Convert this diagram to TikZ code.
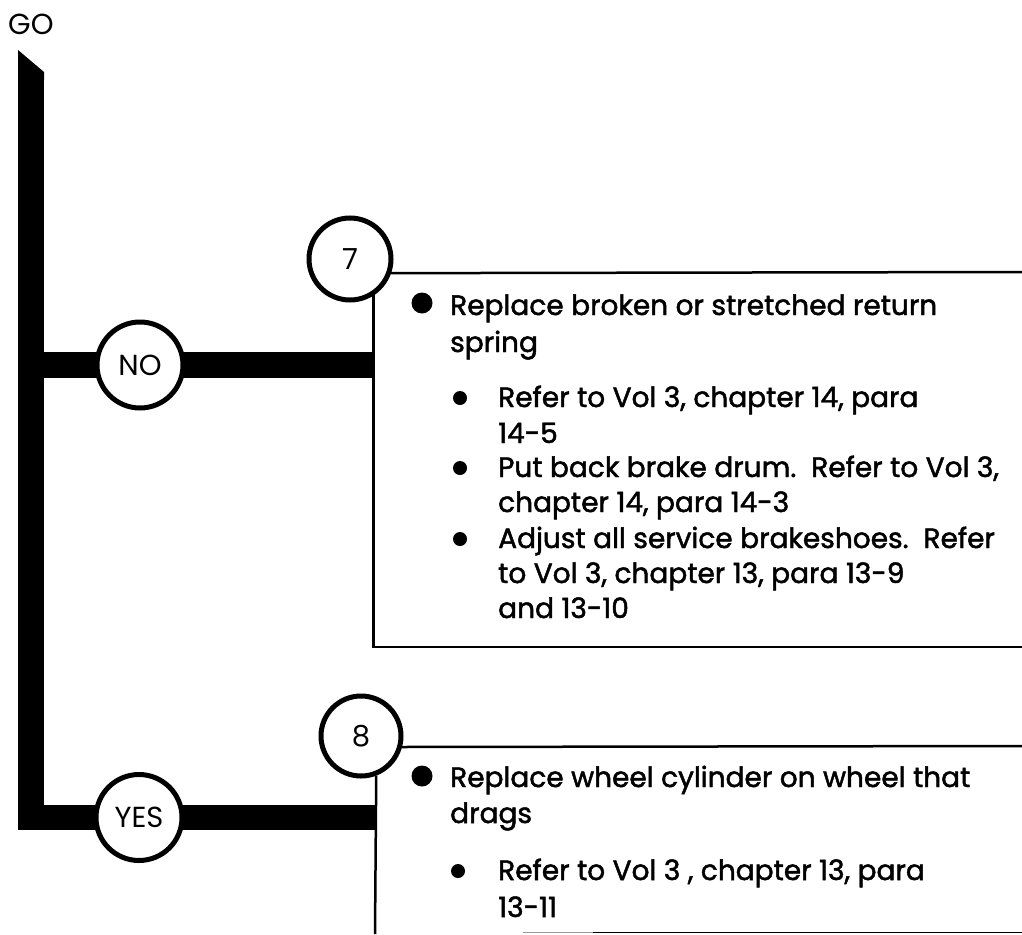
\documentclass[tikz,border=0pt]{standalone}
\usepackage{fontspec}
\setmainfont{Poppins}
\newfontfamily\bodyfont{Poppins}[FakeBold=1.7]
\begin{document}
\begin{tikzpicture}[x=1pt,y=-1pt,
  bar/.style={line width=25.5pt},
  circ/.style={circle,draw,line width=5pt,fill=white,minimum size=86pt,inner sep=0pt,font=\fontsize{29}{33}\selectfont},
  boxline/.style={line width=2.5pt},
  txt/.style={anchor=base west,inner sep=0pt,font=\bodyfont\fontsize{28}{33}\selectfont},
  bigdot/.style={circle,fill,inner sep=0pt,minimum size=21pt},
  smalldot/.style={circle,fill,inner sep=0pt,minimum size=14pt},
]
\useasboundingbox (0,0) rectangle (1022,934);

% start label
\node[anchor=base west,inner sep=0pt,font=\fontsize{29}{33}\selectfont] (go) at (8,35) {GO};

% trunk
\coordinate (ttop) at (31,72);
\coordinate (tcorner) at (31,817.5);
\coordinate (b8w) at (375,817.5);
\fill (18,50) -- (44,72) -- (44,80) -- (18,80) -- cycle;
\draw[bar,line join=miter] (ttop) -- (tcorner) -- (b8w);

% NO branch
\coordinate (noj) at (31,365);
\coordinate (b7w) at (372,365);
\draw[bar] (noj) -- (b7w);

% decision circles
\node[circ] (no) at (140,365) {NO};
\node[circ] (yes) at (139,817.5) {YES};

% box 7
\node[circ,minimum size=82pt] (c7) at (350,259) {7};
\coordinate (b7ne) at (1022,272);
\coordinate (b7se) at (1022,647);
\draw[boxline] (c7.-19) -- (b7ne);
\draw[boxline] (c7.-57) |- (b7se);

% box 8
\node[circ,minimum size=80pt] (c8) at (361,736) {8};
\coordinate (b8ne) at (1022,746);
\coordinate (b8sw) at (375,934);
\draw[boxline] (c8.-15) -- (b8ne);
\draw[boxline] (c8.-69) -- (b8sw);
\coordinate (bl1) at (523,932.5);
\coordinate (bl2) at (593,932.5);
\coordinate (bl3) at (1022,932.5);
\draw[black!40,line width=1.5pt] (bl1) -- (bl2);
\draw[line width=1.5pt] (bl2) -- (bl3);

% box 7 text
\node[bigdot] (d7) at (422,303) {};
\node[txt] (t7a) at (450,315) {Replace broken or stretched return};
\node[txt] (t7b) at (450,352) {spring};
\node[smalldot] (d7a) at (460,398) {};
\node[txt] (t7c) at (498,407) {Refer to Vol 3, chapter 14, para};
\node[txt] (t7d) at (498,443) {14-5};
\node[smalldot] (d7b) at (460,468) {};
\node[txt] (t7e) at (498,477) {Put back brake drum.\ \ Refer to Vol 3,};
\node[txt] (t7f) at (498,512) {chapter 14, para 14-3};
\node[smalldot] (d7c) at (460,539) {};
\node[txt] (t7g) at (498,548) {Adjust all service brakeshoes.\ \ Refer};
\node[txt] (t7h) at (498,583) {to Vol 3, chapter 13, para 13-9};
\node[txt] (t7i) at (498,618) {and 13-10};

% box 8 text
\node[bigdot] (d8) at (422,776) {};
\node[txt] (t8a) at (450,787) {Replace wheel cylinder on wheel that};
\node[txt] (t8b) at (450,823) {drags};
\node[smalldot] (d8a) at (458,871) {};
\node[txt] (t8c) at (498,880) {Refer to Vol 3 , chapter 13, para};
\node[txt] (t8d) at (498,917) {13-11};
\end{tikzpicture}
\end{document}
